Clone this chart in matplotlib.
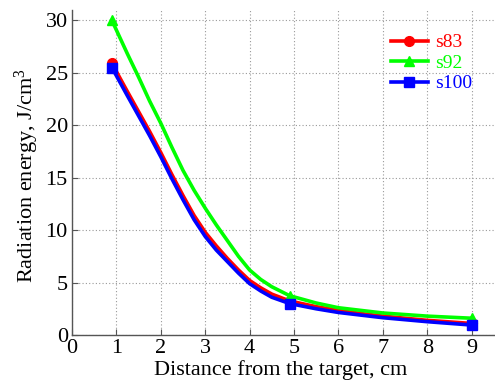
import matplotlib
matplotlib.use("Agg")
import matplotlib.pyplot as plt

x = [0.9, 1.25, 1.5, 1.75, 2.0, 2.25, 2.5, 2.75, 3.0, 3.25, 3.5, 3.75, 4.0, 4.25, 4.5, 4.9,
     5.5, 6.0, 6.5, 7.0, 8.0, 9.0]
s83 = [25.9, 23.2, 21.3, 19.4, 17.4, 15.3, 13.3, 11.4, 9.8, 8.5, 7.3, 6.2, 5.2, 4.5, 3.9, 3.25,
       2.7, 2.35, 2.05, 1.8, 1.4, 1.1]
s92 = [30.0, 26.8, 24.6, 22.3, 20.2, 17.9, 15.7, 13.8, 12.1, 10.5, 9.0, 7.5, 6.2, 5.3, 4.6, 3.75,
       3.05, 2.6, 2.35, 2.1, 1.8, 1.6]
s100 = [25.5, 22.8, 20.9, 19.0, 17.0, 14.9, 12.9, 11.0, 9.4, 8.1, 7.0, 5.9, 4.9, 4.2, 3.6, 3.0,
        2.5, 2.15, 1.9, 1.65, 1.27, 0.95]
marker_idx = [0, 15, 21]
xticks = list(range(0, 10))
yticks = [0, 5, 10, 15, 20, 25, 30]

plt.rcParams['font.family'] = ['Liberation Serif', 'DejaVu Serif']
plt.rcParams['mathtext.fontset'] = 'custom'
plt.rcParams['mathtext.rm'] = 'Liberation Serif'
plt.rcParams['mathtext.it'] = 'Liberation Serif:italic'

fig = plt.figure(figsize=(4.95, 3.85), dpi=100)
W, H = 495, 385
ax = fig.add_axes([72 / W, 50 / H, 444 / W, 325 / H])

ax.plot(x, s83, color='#ff0000', lw=2.6, marker='o', ms=7, markevery=marker_idx, label='s83')
ax.plot(x, s92, color='#00ff00', lw=2.6, marker='^', ms=7, markevery=marker_idx, label='s92')
ax.plot(x, s100, color='#0000ff', lw=2.6, marker='s', ms=7, markevery=marker_idx, label='s100')

ax.set_xlim(0, 10)
ax.set_ylim(0, 31)
ax.set_xticks(xticks)
ax.set_yticks(yticks)
ax.tick_params(direction='in', labelsize=16, length=4, color='#555555')
ax.tick_params(axis='x', pad=3)
ax.tick_params(axis='y', pad=3)
ax.grid(True, linestyle=(0, (1, 2)), color='#999999', lw=0.8)
for s in ['top', 'right']:
    ax.spines[s].set_visible(False)
for s in ['left', 'bottom']:
    ax.spines[s].set_color('#555555')
    ax.spines[s].set_linewidth(1.0)

ax.set_xlabel('Distance from the target, cm', fontsize=16)
ax.xaxis.set_label_coords((281 - 72) / 444, (335 - 360) / 325)
ax.set_ylabel('Radiation energy, J/cm$^3$', fontsize=16)
ax.yaxis.set_label_coords((41 - 72) / 444, (335 - 175) / 325)

leg = ax.legend(loc='upper left', bbox_to_anchor=(383 / W, 1 - 26 / H),
                bbox_transform=fig.transFigure, frameon=False, fontsize=14,
                handlelength=1.9, handletextpad=0.4, labelspacing=0.15, borderaxespad=0)
for t, c in zip(leg.get_texts(), ['#ff0000', '#00ff00', '#0000ff']):
    t.set_color(c)

fig.savefig('out.png', dpi=100)
